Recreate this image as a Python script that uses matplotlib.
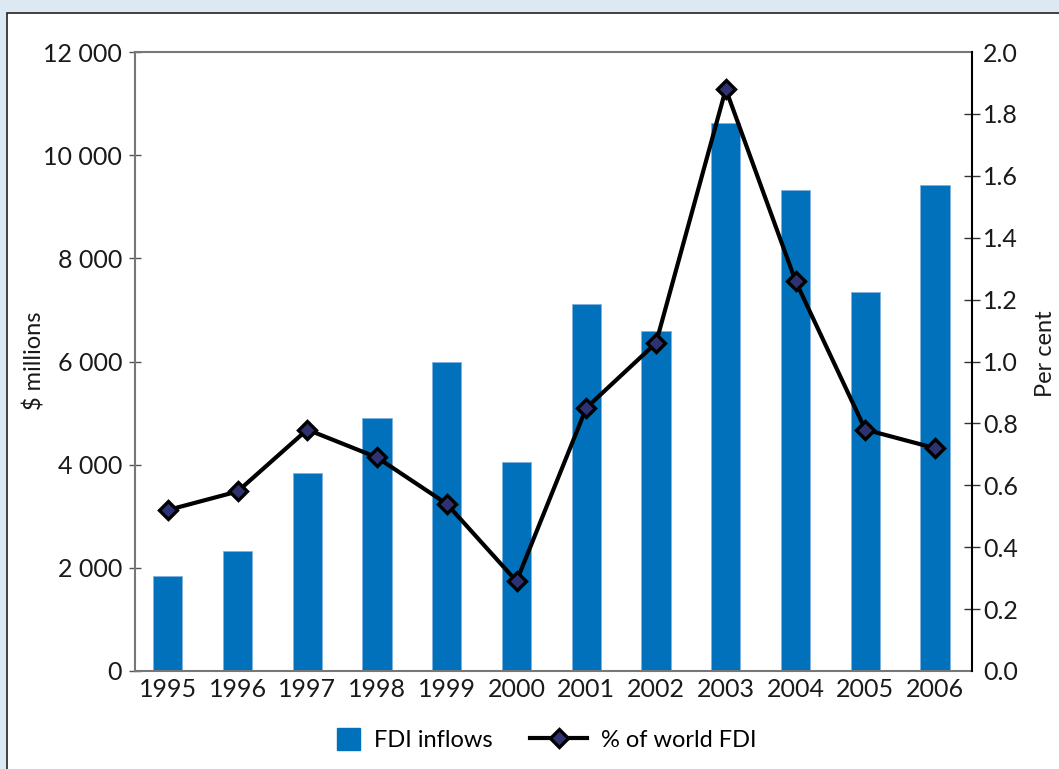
import matplotlib.pyplot as plt
import matplotlib.patches as mpatches
from matplotlib.ticker import FuncFormatter
from matplotlib.lines import Line2D
from matplotlib.legend_handler import HandlerPatch
import numpy as np

plt.rcParams['font.family'] = ['Lato', 'DejaVu Sans']

# Data
years = ["1995", "1996", "1997", "1998", "1999", "2000",
         "2001", "2002", "2003", "2004", "2005", "2006"]
fdi_inflows = [1840, 2330, 3840, 4900, 6000, 4060,
               7120, 6590, 10620, 9320, 7340, 9420]
pct_world = [0.52, 0.58, 0.78, 0.69, 0.54, 0.29,
             0.85, 1.06, 1.88, 1.26, 0.78, 0.72]

bar_color = "#0071BA"
W, H = 1059, 769

fig = plt.figure(figsize=(W / 100, H / 100), dpi=100)
fig.patch.set_facecolor("#DCE9F3")

# white panel with dark border
panel = mpatches.Rectangle((7 / W, -0.05), 1.1, 0.05 + 1 - 12.5 / H,
                           transform=fig.transFigure, facecolor="white",
                           edgecolor="#222222", linewidth=1.2, zorder=-5)
fig.patches.append(panel)

ax = fig.add_axes([135 / W, 1 - 671 / H, (972 - 135) / W, (671 - 52) / H])
ax.set_facecolor("none")
x = np.arange(len(years))
ax.bar(x, fdi_inflows, width=0.42, color=bar_color, edgecolor="#7fb2dd",
       linewidth=0.6, zorder=2)

ax.set_xlim(-0.47, 11.53)
ax.set_ylim(0, 12000)
ax.set_yticks(np.arange(0, 12001, 2000))
ax.yaxis.set_major_formatter(FuncFormatter(lambda v, p: f"{int(v):,}".replace(",", " ")))
ax.set_xticks(x)
ax.set_xticklabels(years)
ax.tick_params(axis="x", length=0, labelsize=18, pad=5, colors="#1a1a1a")
ax.tick_params(axis="y", direction="inout", length=8.6, width=1, color="#555555",
               labelsize=18, pad=5, labelcolor="#1a1a1a")
for t in (ax.yaxis.get_major_ticks()[0], ax.yaxis.get_major_ticks()[-1]):
    t.tick1line.set_visible(False)
for s in ("left", "top", "bottom"):
    ax.spines[s].set_color("#777777")
    ax.spines[s].set_linewidth(1.5)
ax.spines["right"].set_visible(False)

ax2 = ax.twinx()
ax2.plot(x, pct_world, color="black", linewidth=3, marker="D", markersize=9.5,
         markerfacecolor="#2E3272", markeredgecolor="black", markeredgewidth=2.4,
         zorder=3)
ax2.set_ylim(0, 2.0)
ax2.set_yticks(np.arange(0, 2.01, 0.2))
ax2.yaxis.set_major_formatter(FuncFormatter(lambda v, p: f"{v:.1f}"))
ax2.tick_params(axis="y", direction="inout", length=12, width=1, color="#333333",
                labelsize=18, pad=2, labelcolor="#1a1a1a")
for t in (ax2.yaxis.get_major_ticks()[0], ax2.yaxis.get_major_ticks()[-1]):
    t.tick2line.set_visible(False)
for s in ("left", "top", "bottom"):
    ax2.spines[s].set_visible(False)
ax2.spines["right"].set_color("black")
ax2.spines["right"].set_linewidth(1.5)

# axis titles
fig.text(35 / W, 1 - 361 / H, "$ millions", rotation=90, ha="center", va="center",
         fontsize=17, color="#1a1a1a")
fig.text(1045 / W, 1 - 354 / H, "Per cent", rotation=90, ha="center", va="center",
         fontsize=17, color="#1a1a1a")


def square_patch(legend, orig_handle, xdescent, ydescent, width, height, fontsize):
    side = height * 1.1
    return mpatches.Rectangle((width - side - xdescent, -ydescent - (side - height) / 2),
                              side, side)


handles = [mpatches.Patch(color=bar_color),
           Line2D([], [], color="black", linewidth=3, marker="D", markersize=9.5,
                  markerfacecolor="#2E3272", markeredgecolor="black", markeredgewidth=2.4)]
fig.legend(handles, ["FDI inflows", "% of world FDI"], loc="center",
           bbox_to_anchor=(530 / W, 1 - 740 / H), ncol=2, frameon=False,
           fontsize=17, handlelength=2.4, handleheight=0.95, columnspacing=1.6,
           handletextpad=0.6,
           handler_map={mpatches.Patch: HandlerPatch(patch_func=square_patch)})

fig.savefig("out.png", dpi=100, facecolor=fig.get_facecolor())
